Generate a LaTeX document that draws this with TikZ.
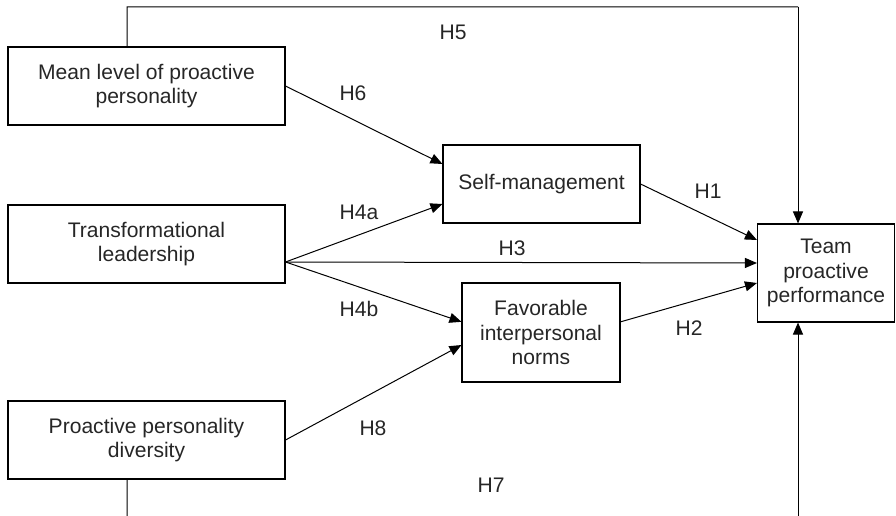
\documentclass[tikz,border=0pt]{standalone}
\usepackage{fontspec}
\setmainfont{Liberation Sans}
\usetikzlibrary{arrows.meta}
\begin{document}
\begin{tikzpicture}[x=0.75pt,y=-0.75pt,
  every node/.style={font=\fontsize{15.8}{18.5}\selectfont, text=black!85},
  box/.style={draw=black, line width=0.8pt, align=center, inner sep=0pt},
  lbl/.style={inner sep=0pt},
  conn/.style={draw=black, line width=0.75pt},
  arr/.style={conn, -{Triangle[length=9pt,width=7.5pt]}}]
\useasboundingbox (0,0) rectangle (896,516);
\clip (0,0) rectangle (896,516);
% boxes
\node[box, minimum width=207.75pt, minimum height=58.5pt] (mean) at (146.5,86) {Mean level of proactive\\personality};
\node[box, minimum width=207.75pt, minimum height=58.5pt] (trans) at (146.5,244) {Transformational\\leadership};
\node[box, minimum width=207.75pt, minimum height=58.5pt] (div) at (146.5,440) {Proactive personality\\diversity};
\node[box, minimum width=147.75pt, minimum height=58.5pt] (self) at (541.5,184) {Self-management};
\node[box, minimum width=118.5pt, minimum height=74.25pt] (fav) at (541,332.5) {Favorable\\interpersonal\\norms};
\node[box, minimum width=102.75pt, minimum height=73.5pt] (team) at (826,273) {Team\\proactive\\performance};
% routing coordinates
\coordinate (h5a) at (127,7);
\coordinate (h5b) at (798,7);
\coordinate (h7a) at (127,540);
\coordinate (h7b) at (798,540);
\coordinate (tr) at ([yshift=-13.5pt]trans.east);
% connectors
\draw[conn] ([xshift=-14.6pt]mean.north) -- (h5a) -- (h5b);
\draw[arr] (h5b) -- ([xshift=-21pt]team.north);
\draw[conn] ([xshift=-14.6pt]div.south) -- (h7a) -- (h7b);
\draw[arr] (h7b) -- ([xshift=-21pt]team.south);
\draw[arr] (mean.east) -- ([yshift=15pt]self.west);
\draw[arr] (tr) -- ([yshift=-15pt]self.west);
\draw[arr] (tr) -- ([yshift=7.5pt]team.west);
\draw[arr] (tr) -- ([yshift=8pt]fav.west);
\draw[arr] (div.east) -- ([yshift=-9.4pt]fav.west);
\draw[arr] (self.east) -- ([yshift=24.75pt]team.west);
\draw[arr] ([yshift=8pt]fav.east) -- ([yshift=-7.5pt]team.west);
% labels
\node[lbl] (lh5) at (453,32) {H5};
\node[lbl] (lh6) at (353,93) {H6};
\node[lbl] (lh4a) at (359,212) {H4a};
\node[lbl] (lh3) at (512,248) {H3};
\node[lbl] (lh4b) at (359,309) {H4b};
\node[lbl] (lh8) at (373,428) {H8};
\node[lbl] (lh1) at (708,191) {H1};
\node[lbl] (lh2) at (689,328) {H2};
\node[lbl] (lh7) at (491,485) {H7};
\end{tikzpicture}
\end{document}
